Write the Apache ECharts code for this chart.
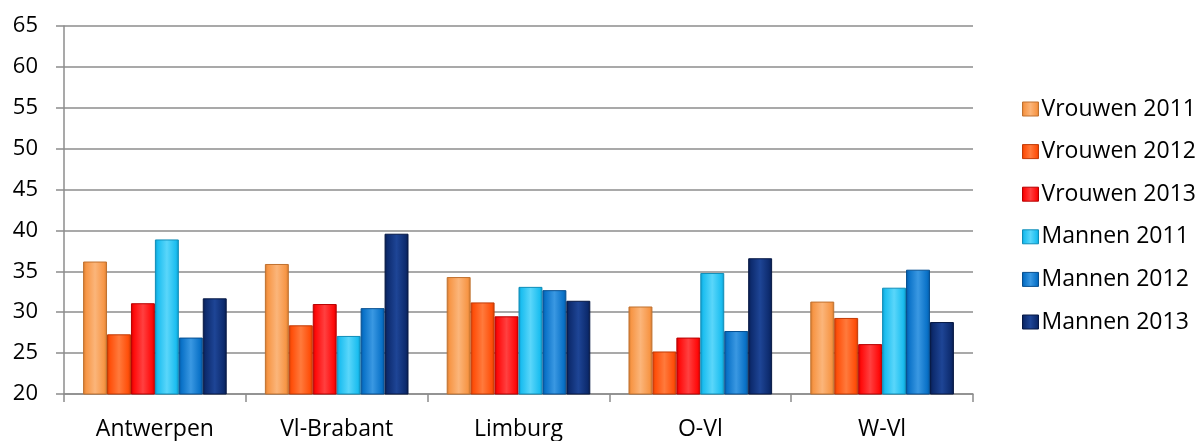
<!DOCTYPE html>
<html><head><meta charset="utf-8">
<script src="https://cdn.jsdelivr.net/npm/echarts@6/dist/echarts.min.js"></script>
<style>html,body{margin:0;padding:0;background:#fff}#c{width:1202px;height:441px}</style>
</head><body><div id="c"></div>
<script>
const categories = ['Antwerpen', 'Vl-Brabant', 'Limburg', 'O-Vl', 'W-Vl'];
const seriesNames = ['Vrouwen 2011', 'Vrouwen 2012', 'Vrouwen 2013', 'Mannen 2011', 'Mannen 2012', 'Mannen 2013'];
const vrouwen2011 = [36.2, 35.9, 34.3, 30.7, 31.3];
const vrouwen2012 = [27.3, 28.4, 31.2, 25.2, 29.3];
const vrouwen2013 = [31.1, 31.0, 29.5, 26.9, 26.1];
const mannen2011 = [38.9, 27.1, 33.1, 34.8, 33.0];
const mannen2012 = [26.9, 30.5, 32.7, 27.7, 35.2];
const mannen2013 = [31.7, 39.6, 31.4, 36.6, 28.8];
const yTicks = {min: 20, max: 65, interval: 5};

const values = [vrouwen2011, vrouwen2012, vrouwen2013, mannen2011, mannen2012, mannen2013];
const colors = [
  {base: '#F79646', light: '#FBB57A', dark: '#D0782F', border: '#C0712F'},
  {base: '#FF4F0A', light: '#FF7A3C', dark: '#D23E05', border: '#C23A05'},
  {base: '#FF0A0A', light: '#FF4040', dark: '#CC0000', border: '#B80000'},
  {base: '#1CBEF0', light: '#5AD6FA', dark: '#0E98C8', border: '#0F8DB8'},
  {base: '#0A72C8', light: '#3A98E2', dark: '#0658A0', border: '#064F90'},
  {base: '#0D2B6E', light: '#1E4596', dark: '#081C4C', border: '#061844'}
];
function grad(c) {
  return new echarts.graphic.LinearGradient(0, 0, 1, 0, [
    {offset: 0, color: c.dark},
    {offset: 0.12, color: c.base},
    {offset: 0.5, color: c.light},
    {offset: 0.88, color: c.base},
    {offset: 1, color: c.dark}
  ]);
}
const font = '"Open Sans", "Noto Sans", sans-serif';
const chart = echarts.init(document.getElementById('c'), null, {renderer: 'canvas'});
chart.setOption({
  animation: false,
  backgroundColor: '#fff',
  grid: {left: 64, right: 229, top: 26, bottom: 45, containLabel: false},
  legend: {
    orient: 'vertical', left: 1017, top: 92,
    itemWidth: 16, itemHeight: 14, itemGap: 18.6,
    icon: 'rect',
    textStyle: {fontFamily: font, fontSize: 23, color: '#000', lineHeight: 24, padding: [0, 0, 0, -2]},
    data: seriesNames.map((n, i) => ({name: n, itemStyle: {color: grad(colors[i]), borderColor: colors[i].border, borderWidth: 1}}))
  },
  xAxis: {
    type: 'category', data: categories,
    axisLine: {show: true, lineStyle: {color: '#8C8C8C', width: 1.5}},
    axisTick: {show: true, length: 8, lineStyle: {color: '#8C8C8C', width: 1.5}},
    axisLabel: {fontFamily: font, fontSize: 23, color: '#000', margin: 24}
  },
  yAxis: {
    type: 'value', min: yTicks.min, max: yTicks.max, interval: yTicks.interval,
    axisLine: {show: true, lineStyle: {color: '#8C8C8C', width: 1.5}},
    axisTick: {show: true, length: 8, lineStyle: {color: '#8C8C8C', width: 1.5}},
    splitLine: {show: true, lineStyle: {color: '#8C8C8C', width: 1.5}},
    axisLabel: {fontFamily: font, fontSize: 22, color: '#000', margin: 26}
  },
  series: seriesNames.map((n, i) => ({
    name: n, type: 'bar', data: values[i],
    barGap: '0%', barCategoryGap: '21%',
    itemStyle: {color: grad(colors[i]), borderColor: colors[i].border, borderWidth: 1}
  }))
});
</script></body></html>
